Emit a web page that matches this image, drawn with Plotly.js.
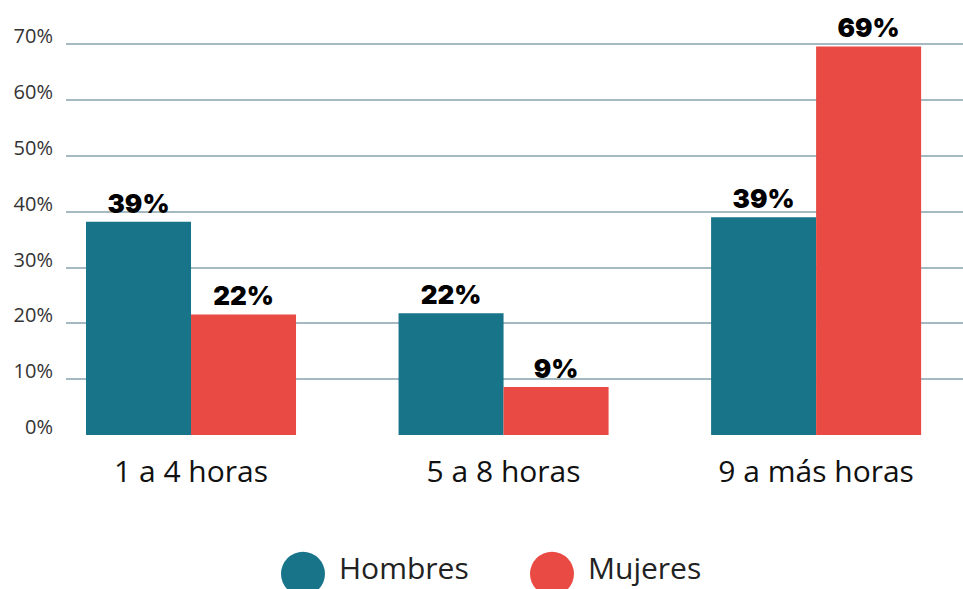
<!DOCTYPE html>
<html>
<head>
<meta charset="utf-8">
<script src="https://cdn.plot.ly/plotly-3.0.1.min.js"></script>
<style>html,body{margin:0;padding:0;background:#fff;}#chart{width:963px;height:589px;}</style>
</head>
<body>
<div id="chart"></div>
<script>
const categories = ["1 a 4 horas", "5 a 8 horas", "9 a más horas"];
const seriesNames = ["Hombres", "Mujeres"];
const hombres = [38.2, 21.8, 39.0];
const mujeres = [21.6, 8.6, 69.6];
const hombresLabels = ["39%", "22%", "39%"];
const mujeresLabels = ["22%", "9%", "69%"];
const yTickVals = [0, 10, 20, 30, 40, 50, 60, 70];
const yTickText = ["0%", "10%", "20%", "30%", "40%", "50%", "60%", "70%"];
const colors = ["#187589", "#e94a43"];

const labelFont = {family: "Inter, 'DejaVu Sans', sans-serif", size: 26, color: "#000", weight: 900};

const traces = [
  {type: "bar", name: seriesNames[0], x: categories, y: hombres, text: hombresLabels,
   textposition: "outside", textfont: labelFont, marker: {color: colors[0]}, cliponaxis: false,
   hoverinfo: "skip", showlegend: false},
  {type: "bar", name: seriesNames[1], x: categories, y: mujeres, text: mujeresLabels,
   textposition: "outside", textfont: labelFont, marker: {color: colors[1]}, cliponaxis: false,
   hoverinfo: "skip", showlegend: false}
];

const legendX = [0.2642, 0.5418];
const legendTextX = [0.3066, 0.5842];
const shapes = seriesNames.map((n, i) => ({
  type: "circle", xref: "paper", yref: "paper", xsizemode: "pixel", ysizemode: "pixel",
  xanchor: legendX[i], yanchor: -0.3453, x0: -22, x1: 22, y0: -22, y1: 22,
  fillcolor: colors[i], line: {width: 0}
}));
const annotations = seriesNames.map((n, i) => ({
  text: n, xref: "paper", yref: "paper", x: legendTextX[i] - 0.004, y: -0.330,
  xanchor: "left", yanchor: "middle", showarrow: false,
  font: {family: "'Open Sans', sans-serif", size: 30, color: "#222"}
}));

const layout = {
  width: 963, height: 589,
  margin: {l: 66, r: 0, t: 32.5, b: 154},
  paper_bgcolor: "#fff", plot_bgcolor: "#fff",
  barmode: "group", bargap: 0.328, bargroupgap: 0,
  showlegend: false,
  xaxis: {type: "category", range: [-0.4, 2.47], showgrid: false, zeroline: false, showline: false,
    ticks: "", tickfont: {family: "'Open Sans', sans-serif", size: 30, color: "#111"},
    ticklabelstandoff: 16, fixedrange: true},
  yaxis: {range: [0, 72], tickvals: yTickVals, ticktext: yTickText,
    showgrid: true, gridcolor: "#a5b9c3", gridwidth: 2, zeroline: false, showline: false,
    ticks: "", tickfont: {family: "'Open Sans', sans-serif", size: 20, color: "#333"},
    ticklabelstandoff: 12, ticklabelshift: -8, fixedrange: true},
  shapes: shapes,
  annotations: annotations
};

Plotly.newPlot("chart", traces, layout, {displayModeBar: false, staticPlot: true});
</script>
</body>
</html>
